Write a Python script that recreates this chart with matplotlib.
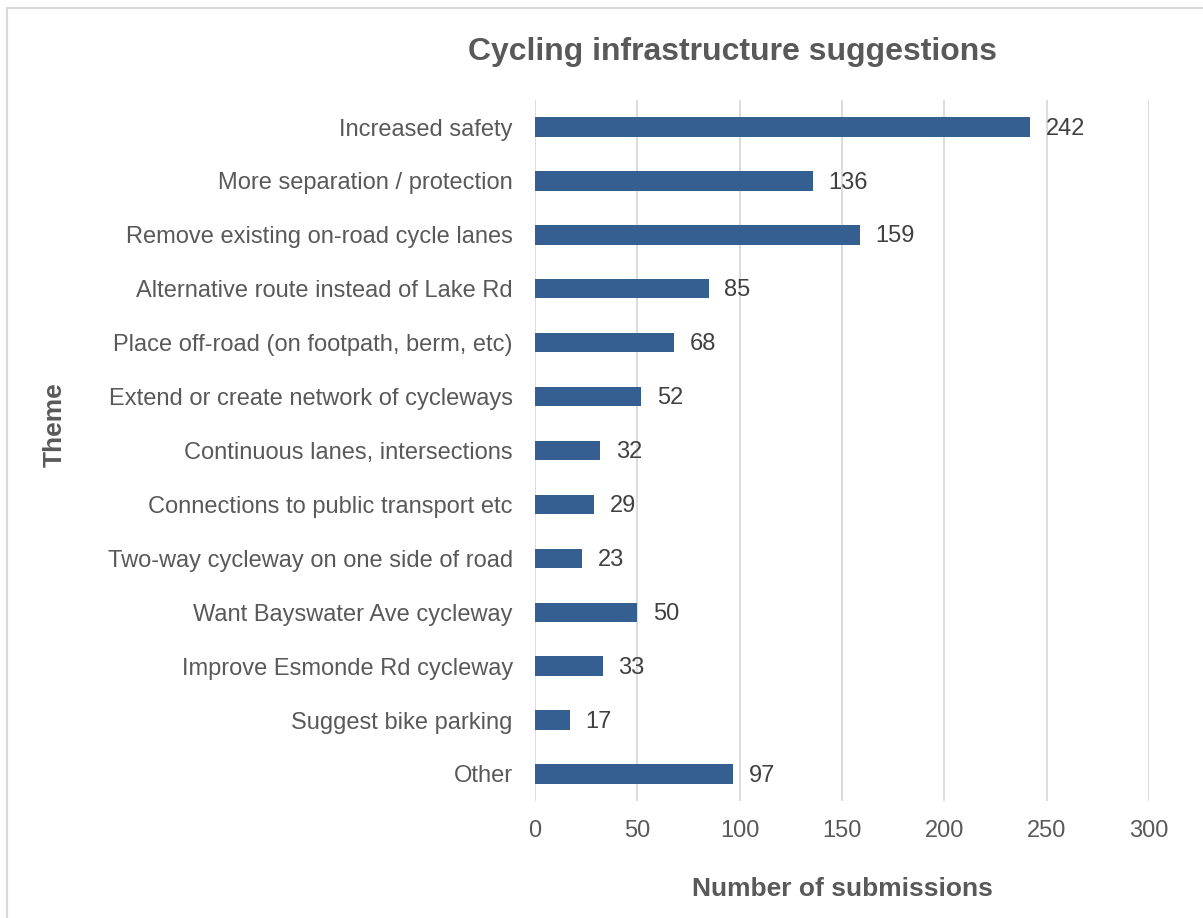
import numpy as np
import matplotlib
matplotlib.use("Agg")
import matplotlib.pyplot as plt
from matplotlib.lines import Line2D

# ── Datos ──
temas = [
    "Increased safety",
    "More separation / protection",
    "Remove existing on-road cycle lanes",
    "Alternative route instead of Lake Rd",
    "Place off-road (on footpath, berm, etc)",
    "Extend or create network of cycleways",
    "Continuous lanes, intersections",
    "Connections to public transport etc",
    "Two-way cycleway on one side of road",
    "Want Bayswater Ave cycleway",
    "Improve Esmonde Rd cycleway",
    "Suggest bike parking",
    "Other",
]
envios = [242, 136, 159, 85, 68, 52, 32, 29, 23, 50, 33, 17, 97]
ticks_x = [0, 50, 100, 150, 200, 250, 300]

plt.rcParams["font.family"] = ["Liberation Sans", "DejaVu Sans"]
GRIS = "#595959"
AZUL = "#365F91"

fig = plt.figure(figsize=(12.03, 9.18), dpi=100)
ax = fig.add_axes([0.4447, 0.1275, 0.5103, 0.7635])

y = np.arange(len(temas))
ax.barh(y, envios, height=0.36, color=AZUL, zorder=3)
for yi, v in zip(y, envios):
    ax.text(v + 7.5, yi + 0.03, str(v), va="center", ha="left", fontsize=17, color="#404040")

ax.set_ylim(len(temas) - 0.5, -0.5)
ax.set_xlim(0, 300)
ax.set_xticks(ticks_x)
ax.set_yticks(y)
ax.set_yticklabels(temas)
ax.tick_params(axis="both", length=0, labelsize=17, labelcolor=GRIS)
ax.tick_params(axis="y", pad=16)
ax.tick_params(axis="x", pad=14)
ax.grid(axis="x", color="#D9D9D9", lw=1.3, zorder=0)
for s in ax.spines.values():
    s.set_visible(False)

fig.text(0.700, 0.0316, "Number of submissions", ha="center", va="center",
         fontsize=19, fontweight="bold", color=GRIS)
fig.text(0.0457, 0.537, "Theme", rotation=90, ha="center", va="center",
         fontsize=19, fontweight="bold", color=GRIS)
fig.text(0.609, 0.943, "Cycling infrastructure suggestions", ha="center", va="center",
         fontsize=23, fontweight="bold", color=GRIS)

# marco gris claro (solo izquierda y arriba visibles)
fig.add_artist(Line2D([0.0058, 0.0058], [0.0, 0.9913], transform=fig.transFigure, color="#D9D9D9", lw=1.5))
fig.add_artist(Line2D([0.0058, 1.0], [0.9913, 0.9913], transform=fig.transFigure, color="#D9D9D9", lw=1.5))

fig.savefig("out.png", dpi=100, facecolor="white")
